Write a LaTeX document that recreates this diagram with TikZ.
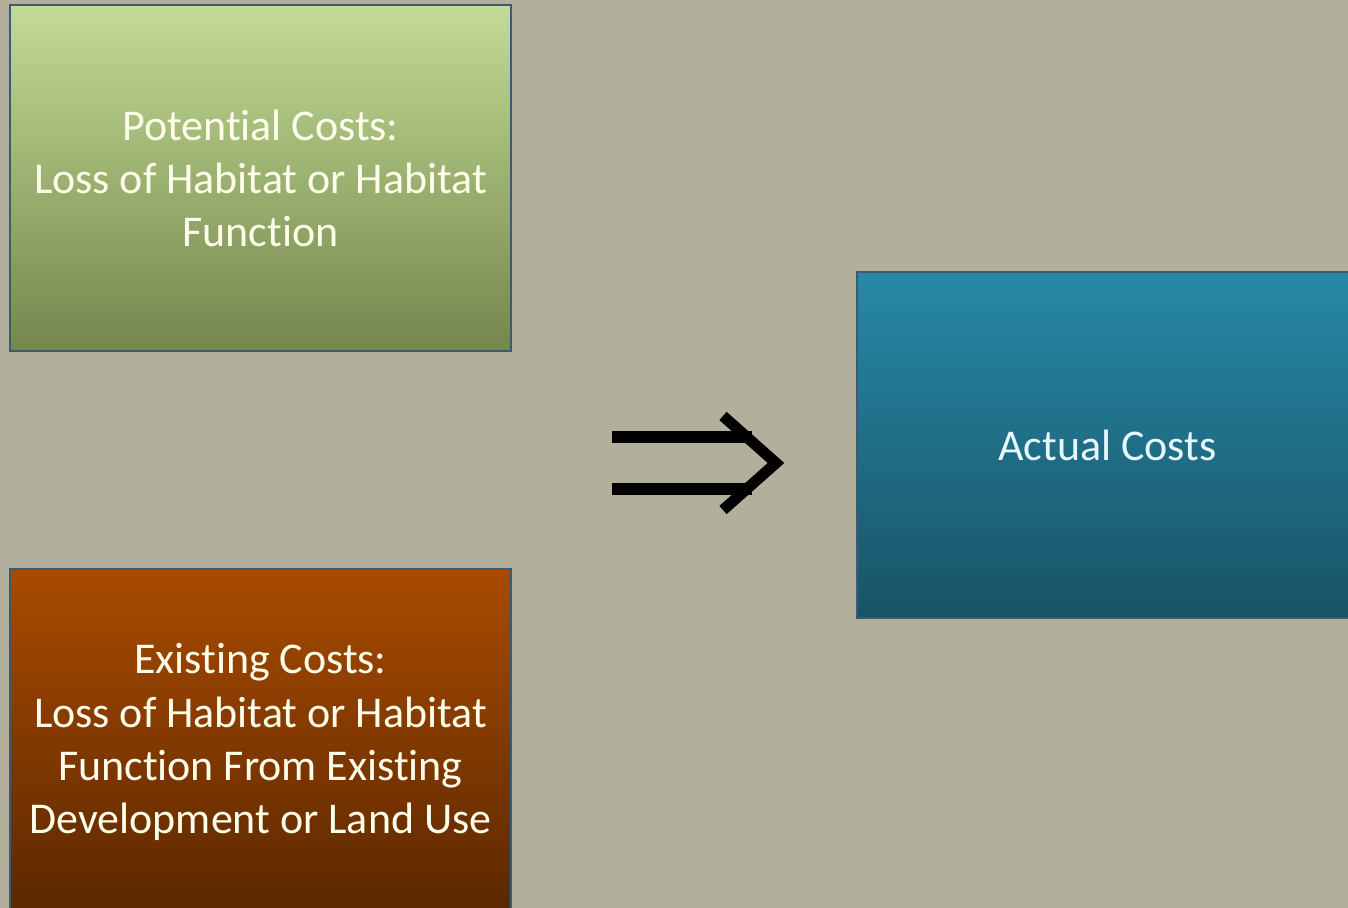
\documentclass[tikz,border=0pt]{standalone}
\usepackage{fontspec}
\setmainfont[Ligatures=NoCommon]{Carlito}
\usepackage{xcolor}
\definecolor{slate}{HTML}{B2AF9D}
\definecolor{edgeblue}{HTML}{3E5A6E}
\definecolor{leafTop}{HTML}{C3DB95}
\definecolor{leafBot}{HTML}{74874D}
\definecolor{rustTop}{HTML}{A94B00}
\definecolor{rustBot}{HTML}{5A2700}
\definecolor{tealTop}{HTML}{2789A7}
\definecolor{tealBot}{HTML}{185366}
\tikzset{
  costbox/.style={draw=edgeblue, line width=0.8pt, minimum width=10.02cm, minimum height=6.92cm,
    align=center, text=white!92!yellow, font=\fontsize{25}{30.2}\selectfont, inner sep=0pt},
  bar/.style={line width=0.25cm, black}
}

\begin{document}
\begin{tikzpicture}[x=0.02cm, y=-0.02cm]
% background
\fill[slate] (0,0) rectangle (1348,908);
\useasboundingbox (0,0) rectangle (1348,908);

% cost boxes
\node[costbox, top color=leafTop, bottom color=leafBot] (pot) at (260.5,178) {Potential Costs:\\Loss of Habitat or Habitat\\Function};
\node[costbox, top color=rustTop, bottom color=rustBot] (exist) at (260.5,742) {Existing Costs:\\Loss of Habitat or Habitat\\Function From Existing\\Development or Land Use};
\node[costbox, top color=tealTop, bottom color=tealBot, text=white!90!cyan] (actual) at (1107.5,445) {Actual Costs};

% double arrow between the columns
\draw[bar] (612,437) -- (752,437);
\draw[bar] (612,489) -- (752,489);
\draw[bar, line width=0.22cm, miter limit=10] (723,416) -- (776,463) -- (723,510);
\end{tikzpicture}
\end{document}
